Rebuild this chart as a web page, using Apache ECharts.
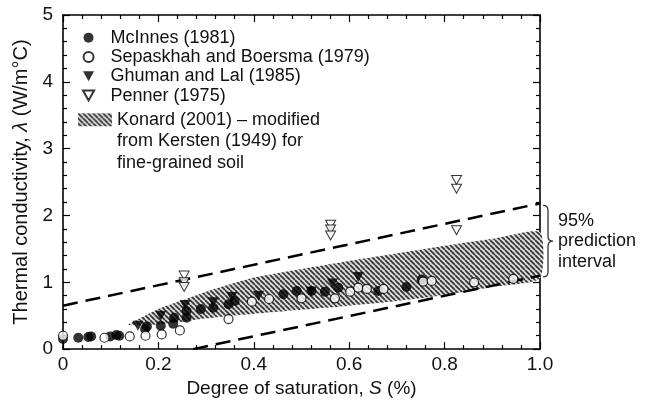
<!DOCTYPE html>
<html>
<head>
<meta charset="utf-8">
<style>
  html, body { margin: 0; padding: 0; background: #fff; }
  #chart { width: 652px; height: 403px; }
</style>
<script src="https://cdn.jsdelivr.net/npm/echarts@6/dist/echarts.min.js"></script>
</head>
<body>
<div id="chart"></div>
<script>
// Measured points: [degree of saturation, thermal conductivity]
const mcInnes = [
  [0.0, 0.15], [0.032, 0.17], [0.053, 0.18], [0.059, 0.19], [0.099, 0.19],
  [0.112, 0.21], [0.118, 0.20], [0.172, 0.30], [0.176, 0.34], [0.205, 0.35],
  [0.231, 0.38], [0.233, 0.47], [0.259, 0.47], [0.259, 0.57], [0.289, 0.60],
  [0.315, 0.62], [0.347, 0.67], [0.36, 0.72], [0.462, 0.82], [0.49, 0.87],
  [0.521, 0.87], [0.549, 0.86], [0.577, 0.92], [0.661, 0.87], [0.72, 0.93],
  [0.752, 1.04]
];
const sepaskhah = [
  [0.0, 0.20], [0.087, 0.17], [0.14, 0.19], [0.173, 0.20], [0.207, 0.22],
  [0.245, 0.28], [0.347, 0.45], [0.396, 0.71], [0.432, 0.75], [0.50, 0.76],
  [0.570, 0.76], [0.602, 0.86], [0.619, 0.92], [0.637, 0.90], [0.672, 0.90],
  [0.755, 1.01], [0.773, 1.02], [0.862, 1.00], [0.944, 1.05]
];
const ghuman = [
  [0.157, 0.35], [0.205, 0.50], [0.256, 0.66], [0.315, 0.70], [0.354, 0.78],
  [0.41, 0.80], [0.52, 0.86], [0.565, 0.98], [0.619, 1.08]
];
const penner = [
  [0.254, 1.10], [0.254, 1.00], [0.254, 0.93],
  [0.561, 1.86], [0.561, 1.79], [0.561, 1.70],
  [0.825, 2.53], [0.825, 2.40], [0.825, 1.78]
];

// Konard (2001) envelope for fine-grained soil
const bandS     = [0.135, 0.15, 0.20, 0.25, 0.30, 0.40, 0.50, 0.60, 0.70, 0.80, 0.90, 1.00];
const bandUpper = [0.36, 0.42, 0.60, 0.73, 0.86, 1.07, 1.20, 1.32, 1.43, 1.545, 1.65, 1.75];
const bandLower = [0.36, 0.355, 0.37, 0.41, 0.46, 0.53, 0.59, 0.65, 0.72, 0.81, 0.93, 1.06];

// 95% prediction interval limits
const upperLimit = [[0.0, 0.65], [1.0, 2.18]];
const lowerLimit = [[0.273, 0.0], [1.0, 1.10]];
const braceRange = [1.08, 2.15];

const xTicks = { min: 0, max: 1, step: 0.2 };
const yTicks = { min: 0, max: 5, step: 1 };

const FONT = 'Liberation Sans';
const KONARD = 'Konard (2001) – modified\nfrom Kersten (1949) for\nfine-grained soil';

// Diagonal hatch tile
function hatchTile() {
  const c = document.createElement('canvas');
  const n = 5;
  c.width = n; c.height = n;
  const g = c.getContext('2d');
  g.fillStyle = '#dcdcdc';
  g.fillRect(0, 0, n, n);
  g.strokeStyle = '#333333';
  g.lineWidth = 1.7;
  for (let o = -n; o <= n; o += n) {
    g.beginPath();
    g.moveTo(o, 0);
    g.lineTo(o + n, n);
    g.stroke();
  }
  return c;
}
const hatch = { image: hatchTile(), repeat: 'repeat' };

const triDown = 'path://M0,0L10,0L5,9Z';

const chart = echarts.init(document.getElementById('chart'), null, { renderer: 'canvas' });

const axisCommon = {
  type: 'value',
  axisLine: { onZero: false, lineStyle: { color: '#000', width: 1.6 } },
  axisTick: { inside: true, length: 7, lineStyle: { color: '#000', width: 1.2 } },
  minorTick: { show: true, splitNumber: 5, length: 4, lineStyle: { color: '#000', width: 1.2 } },
  splitLine: { show: false },
  axisLabel: { color: '#111', fontFamily: FONT, fontSize: 19 }
};

const option = {
  animation: false,
  backgroundColor: '#fff',
  grid: { left: 63, top: 15, width: 477, height: 337, containLabel: false },
  xAxis: [
    Object.assign({}, axisCommon, {
      position: 'bottom', min: xTicks.min, max: xTicks.max, interval: xTicks.step,
      axisLabel: Object.assign({}, axisCommon.axisLabel, {
        margin: 6,
        formatter: v => (v === 0 ? '0' : v.toFixed(1))
      }),
      name: 'Degree of saturation, {i|S} (%)',
      nameLocation: 'middle', nameGap: 22,
      nameTextStyle: {
        color: '#111', fontFamily: FONT, fontSize: 19,
        rich: { i: { fontStyle: 'italic', fontFamily: FONT, fontSize: 19, color: '#111' } }
      }
    }),
    Object.assign({}, axisCommon, {
      position: 'top', min: xTicks.min, max: xTicks.max, interval: xTicks.step,
      axisLabel: { show: false }
    })
  ],
  yAxis: [
    Object.assign({}, axisCommon, {
      position: 'left', min: yTicks.min, max: yTicks.max, interval: yTicks.step,
      axisLabel: Object.assign({}, axisCommon.axisLabel, { margin: 10 }),
      name: 'Thermal conductivity, {i|λ} (W/m°C)',
      nameLocation: 'middle', nameGap: 28, nameRotate: 90,
      nameTextStyle: {
        color: '#111', fontFamily: FONT, fontSize: 20,
        rich: { i: { fontStyle: 'italic', fontFamily: FONT, fontSize: 20, color: '#111' } }
      }
    }),
    Object.assign({}, axisCommon, {
      position: 'right', min: yTicks.min, max: yTicks.max, interval: yTicks.step,
      axisLabel: { show: false }
    })
  ],
  legend: [
    {
      orient: 'vertical', left: 82, top: 28, padding: 0,
      itemWidth: 34, itemHeight: 10, itemGap: 0,
      symbolKeepAspect: true,
      textStyle: { color: '#111', fontFamily: FONT, fontSize: 18, lineHeight: 19.3 },
      data: ['McInnes (1981)', 'Sepaskhah and Boersma (1979)', 'Ghuman and Lal (1985)', 'Penner (1975)']
    },
    {
      orient: 'vertical', left: 78, top: 66, padding: 0,
      itemWidth: 34, itemHeight: 13, itemGap: 0,
      // two leading blank lines keep the first text line level with the swatch
      formatter: name => '\n\n' + name,
      textStyle: { color: '#111', fontFamily: FONT, fontSize: 18, lineHeight: 21.5 },
      data: [{
        name: KONARD,
        icon: 'rect',
        itemStyle: { color: hatch, borderWidth: 0 }
      }]
    }
  ],
  series: [
    {
      name: KONARD,
      type: 'custom',
      coordinateSystem: 'cartesian2d',
      z: 1,
      silent: true,
      itemStyle: { color: hatch },
      data: [0],
      renderItem: function (params, api) {
        const pts = [];
        for (let i = 0; i < bandS.length; i++) pts.push(api.coord([bandS[i], bandUpper[i]]));
        for (let i = bandS.length - 1; i >= 0; i--) pts.push(api.coord([bandS[i], bandLower[i]]));
        return {
          type: 'polygon',
          shape: { points: pts, smooth: 0.2 },
          style: { fill: hatch, stroke: null }
        };
      }
    },
    {
      name: 'upper limit', type: 'line', data: upperLimit, z: 3,
      symbol: 'none', silent: true,
      lineStyle: { color: '#000', width: 2.5, type: [15, 8] }
    },
    {
      name: 'lower limit', type: 'line', data: lowerLimit, z: 3,
      symbol: 'none', silent: true,
      lineStyle: { color: '#000', width: 2.5, type: [15, 8] }
    },
    {
      name: 'McInnes (1981)', type: 'scatter', data: mcInnes, z: 5,
      symbol: 'circle', symbolSize: 10,
      itemStyle: { color: '#000' }
    },
    {
      name: 'Sepaskhah and Boersma (1979)', type: 'scatter', data: sepaskhah, z: 6,
      symbol: 'circle', symbolSize: 9,
      itemStyle: { color: '#fff', borderColor: '#000', borderWidth: 1.2 }
    },
    {
      name: 'Ghuman and Lal (1985)', type: 'scatter', data: ghuman, z: 7,
      symbol: triDown, symbolSize: [11, 10],
      itemStyle: { color: '#000' }
    },
    {
      name: 'Penner (1975)', type: 'scatter', data: penner, z: 7,
      symbol: triDown, symbolSize: [10, 9],
      itemStyle: { color: '#fff', borderColor: '#000', borderWidth: 1 }
    },
    {
      name: 'prediction interval', type: 'custom',
      coordinateSystem: 'cartesian2d', silent: true, z: 4,
      data: [0],
      renderItem: function (params, api) {
        const top = api.coord([1.0, braceRange[1]]);
        const bot = api.coord([1.0, braceRange[0]]);
        const x0 = top[0] + 3;
        const xm = x0 + 5;
        const xt = x0 + 10;
        const yT = top[1], yB = bot[1], yM = (yT + yB) / 2;
        const r = 5;
        const d = [
          'M', x0, yT,
          'Q', xm, yT, xm, yT + r,
          'L', xm, yM - r,
          'Q', xm, yM, xt, yM,
          'Q', xm, yM, xm, yM + r,
          'L', xm, yB - r,
          'Q', xm, yB, x0, yB
        ].join(' ');
        return {
          type: 'group',
          children: [
            {
              type: 'path',
              shape: { pathData: d },
              style: { fill: null, stroke: '#333', lineWidth: 1.3 }
            },
            {
              type: 'text',
              x: xt + 5, y: yM,
              style: {
                text: '95%\nprediction\ninterval',
                fill: '#111', font: '18px "' + FONT + '"',
                lineHeight: 20.5, verticalAlign: 'middle', align: 'left'
              }
            }
          ]
        };
      }
    }
  ]
};

chart.setOption(option);
</script>
</body>
</html>
